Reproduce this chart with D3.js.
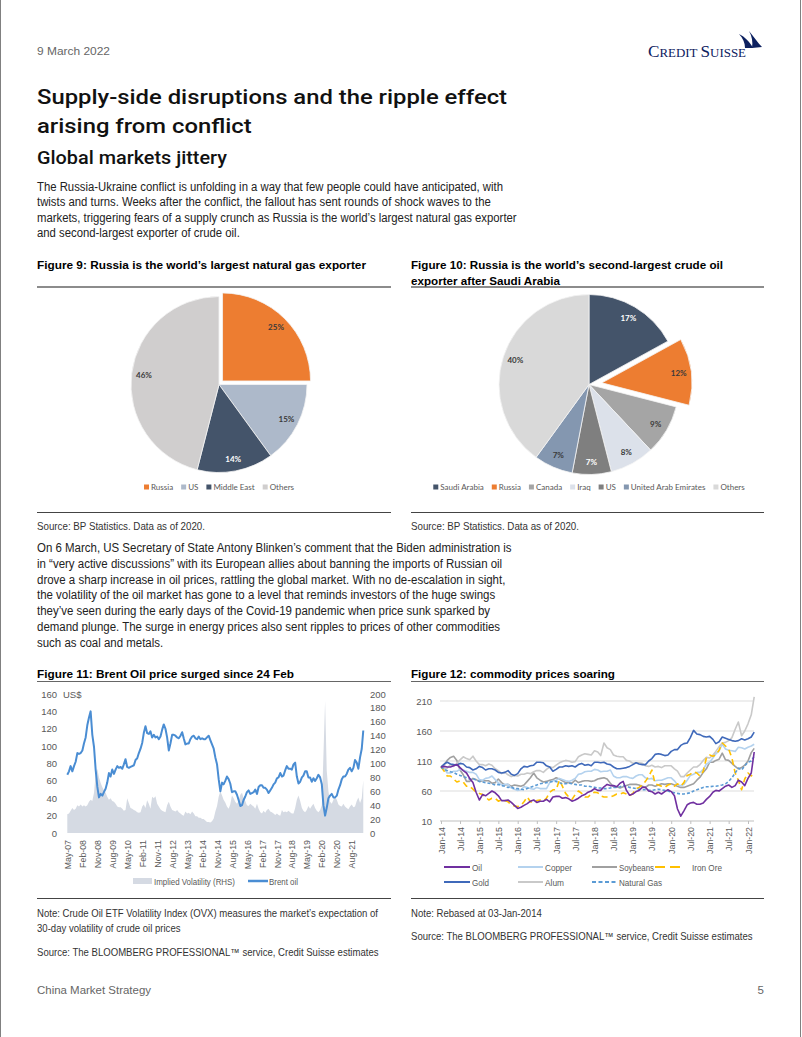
<!DOCTYPE html>
<html><head><meta charset="utf-8">
<script src="https://cdn.jsdelivr.net/npm/d3@7"></script>
<style>html,body{margin:0;padding:0;background:#fff}svg{display:block}</style>
</head><body>
<svg id="page" width="802" height="1037"></svg>
<script>
// ---------------- DATA ----------------
const gasCategories = ["Russia","US","Middle East","Others"];
const gasShares = [25,15,14,46];
const gasColors = ["#ED7D31","#ADB9CA","#44546A","#D0CECE"];
const gasLabelColors = ["#3a3a3a","#3a3a3a","#ffffff","#3a3a3a"];

const crudeCategories = ["Saudi Arabia","Russia","Canada","Iraq","US","United Arab Emirates","Others"];
const crudeShares = [17,12,9,8,7,7,40];
const crudeColors = ["#44546A","#ED7D31","#A5A5A5","#DCE1EA","#7F7F7F","#8497B0","#D9D9D9"];
const crudeLabelColors = ["#ffffff","#3a3a3a","#3a3a3a","#3a3a3a","#ffffff","#3a3a3a","#3a3a3a"];

// Figure 11: monthly from May-2007 to Mar-2022
const brentStart = [2007, 4];
const brent = [
  67,71,77,71,77,82,92,91,
  92,95,103,110,124,133,140,113,99,73,53,41,
  45,43,47,51,58,69,65,73,68,73,77,75,
  76,74,79,85,76,75,76,77,78,84,86,92,
  97,104,115,123,115,114,117,110,113,110,111,108,
  111,119,125,120,110,95,103,113,113,112,110,109,
  112,116,109,102,103,103,108,111,112,109,108,111,
  108,109,108,108,110,112,107,102,97,87,79,62,
  48,58,56,60,65,62,57,47,48,48,44,38,
  31,32,38,42,47,49,45,46,47,50,45,53,
  55,55,52,52,50,46,49,52,56,58,63,64,
  69,65,66,72,77,74,74,73,79,81,65,57,
  59,64,66,71,71,64,64,59,63,60,63,67,
  64,56,32,20,29,40,43,45,41,41,43,50,
  55,62,65,65,68,73,75,71,75,84,81,74,
  87,97,118
];
const impliedVol = [
  27,28,32,36,33,35,40,38,
  41,38,40,38,40,45,48,46,58,85,92,80,
  72,66,62,58,52,48,50,46,45,42,38,37,
  37,35,32,33,50,43,36,35,33,32,30,29,
  30,38,41,36,47,42,35,52,50,53,42,38,
  34,32,31,30,40,45,38,33,32,31,33,30,
  28,26,25,31,28,29,27,31,28,24,24,22,
  22,20,20,18,16,16,15,17,21,31,39,52,
  60,54,48,44,38,35,41,54,50,45,42,46,
  55,58,50,46,40,39,42,40,38,35,42,35,
  30,28,32,29,33,35,31,30,28,26,28,26,
  25,33,30,31,30,32,30,28,28,36,48,54,
  46,36,32,30,33,39,35,39,42,36,32,30,
  33,40,110,190,90,60,45,42,48,52,48,41,
  39,38,42,38,36,34,38,41,37,38,46,51,
  43,50,76
];
const fig11Ticks = ["May-07","Feb-08","Nov-08","Aug-09","May-10","Feb-11","Nov-11","Aug-12","May-13","Feb-14","Nov-14","Aug-15","May-16","Feb-17","Nov-17","Aug-18","May-19","Feb-20","Nov-20","Aug-21"];
const fig11LeftTicks = [0,20,40,60,80,100,120,140,160];
const fig11RightTicks = [0,20,40,60,80,100,120,140,160,180,200];

// Figure 12: monthly, rebased (Jan-2014 = 100), Jan-2014 to Mar-2022
const commodityStart = [2014, 0];
const oilIdx = [
  100,101,100,100,102,104,99,94,90,81,74,58,
  45,54,52,56,60,57,52,44,44,45,41,36,
  31,33,36,39,43,45,41,43,43,46,42,50,
  51,51,48,49,47,43,45,48,52,54,58,60,
  64,61,61,67,71,69,69,67,73,76,61,53,
  55,59,61,66,66,60,59,55,58,55,59,62,
  59,52,30,18,27,37,40,41,38,38,40,46,
  51,58,61,60,64,68,70,66,69,78,75,69,
  81,90,125
];
const copperIdx = [
  100,97,90,90,93,93,96,95,93,91,91,88,
  79,78,81,82,85,79,74,70,71,71,65,63,
  61,62,67,66,64,63,66,64,64,64,74,77,
  78,81,79,77,76,78,81,88,89,92,93,93,
  96,95,92,93,93,95,85,82,82,84,84,82,
  81,85,87,87,82,80,81,77,78,78,80,82,
  82,77,70,69,71,78,86,88,91,91,96,105,
  108,115,122,127,138,130,128,127,126,133,132,130,
  133,135,138
];
const soybeansIdx = [
  100,104,111,116,118,111,95,87,76,76,81,79,
  76,77,77,77,73,74,80,74,70,71,68,70,
  69,68,70,76,82,90,82,78,75,76,78,79,
  82,80,77,74,74,73,78,74,76,77,77,76,
  77,80,81,82,80,73,67,67,65,67,69,71,
  71,71,70,68,66,70,70,68,70,72,71,72,
  72,70,68,66,66,68,70,72,78,83,91,97,
  108,108,111,113,123,112,111,106,101,97,99,103,
  110,124,131
];
const ironOreIdx = [
  100,93,85,85,80,75,77,75,68,68,63,58,
  56,54,50,45,48,48,43,45,44,42,37,35,
  34,36,42,50,42,40,44,45,43,48,58,62,
  62,78,68,56,50,46,54,60,56,50,50,55,
  58,57,52,50,50,50,52,55,55,57,55,52,
  56,64,66,70,76,84,95,72,70,68,66,70,
  72,68,72,68,74,86,88,92,90,85,93,115,
  120,118,120,128,140,135,130,115,90,78,62,80,
  90,85,92
];
const goldIdx = [
  100,105,108,105,104,103,106,105,100,99,95,97,
  101,99,95,97,97,95,91,90,91,94,88,86,
  89,97,101,100,102,103,108,108,107,102,100,93,
  96,100,100,102,101,102,100,104,106,103,104,102,
  108,108,107,108,105,104,100,97,97,98,99,101,
  104,107,105,104,104,110,114,121,122,121,119,120,
  126,129,129,136,139,140,149,161,155,154,151,150,
  151,146,139,142,150,148,146,144,143,144,147,145,
  147,150,158
];
const alumIdx = [
  100,97,98,104,101,106,112,117,114,112,118,110,
  104,104,102,105,103,97,94,89,91,87,84,86,
  85,88,88,90,89,92,94,94,91,96,100,99,
  103,107,109,111,110,108,109,117,120,122,121,120,
  127,125,119,140,132,129,120,118,117,117,111,110,
  106,107,107,106,102,101,103,100,101,99,102,102,
  102,97,93,84,84,90,95,100,100,104,111,116,
  115,120,126,134,140,141,144,149,163,175,152,160,
  172,187,217
];
const natGasIdx = [
  100,96,94,92,91,88,86,84,82,80,81,78,
  76,75,74,73,72,70,71,69,68,66,67,64,
  64,63,62,64,66,68,70,72,73,74,75,76,
  76,74,72,72,73,72,71,70,70,68,68,67,
  66,65,65,64,64,65,66,66,67,69,68,66,
  65,64,63,62,62,61,61,62,63,62,61,60,
  58,57,56,55,55,56,57,60,62,64,66,67,
  67,68,68,69,70,72,76,82,90,98,95,102,
  108,110,118
];
const commodityNames = ["Oil","Copper","Soybeans","Iron Ore","Gold","Alum","Natural Gas"];
const commodityColors = ["#7030A0","#B4D2EE","#A0A0A0","#FFC000","#3F69BA","#C9C9C9","#5B9BD5"];
const commodityDash = [null,null,null,"6,4",null,null,"3,2"];
const commoditySeries = [oilIdx,copperIdx,soybeansIdx,ironOreIdx,goldIdx,alumIdx,natGasIdx];
const fig12Ticks = ["Jan-14","Jul-14","Jan-15","Jul-15","Jan-16","Jul-16","Jan-17","Jul-17","Jan-18","Jul-18","Jan-19","Jul-19","Jan-20","Jul-20","Jan-21","Jul-21","Jan-22"];
const fig12YTicks = [10,60,110,160,210];

// ---------------- TEXT ----------------
const para1 = [
  "The Russia-Ukraine conflict is unfolding in a way that few people could have anticipated, with",
  "twists and turns. Weeks after the conflict, the fallout has sent rounds of shock waves to the",
  "markets, triggering fears of a supply crunch as Russia is the world\u2019s largest natural gas exporter",
  "and second-largest exporter of crude oil."
];
const para2 = [
  "On 6 March, US Secretary of State Antony Blinken\u2019s comment that the Biden administration is",
  "in \u201cvery active discussions\u201d with its European allies about banning the imports of Russian oil",
  "drove a sharp increase in oil prices, rattling the global market. With no de-escalation in sight,",
  "the volatility of the oil market has gone to a level that reminds investors of the huge swings",
  "they\u2019ve seen during the early days of the Covid-19 pandemic when price sunk sparked by",
  "demand plunge. The surge in energy prices also sent ripples to prices of other commodities",
  "such as coal and metals."
];

// ---------------- DRAW ----------------
const svg = d3.select("#page");
const FONT = "'Liberation Sans', Arial, Helvetica, sans-serif";
const HEADFONT = "Roboto, 'Liberation Sans', Arial, sans-serif";
const PIEFONT = "Lato, 'Open Sans', sans-serif";

function addText(g, x, y, s, o = {}) {
  const t = g.append("text").attr("x", x).attr("y", y)
    .attr("font-family", o.family || FONT).attr("font-size", o.size || 12)
    .attr("font-weight", o.weight || "normal").attr("fill", o.fill || "#000")
    .text(s);
  if (o.anchor) t.attr("text-anchor", o.anchor);
  return t;
}
function fitWidth(t, w) { t.attr("textLength", w).attr("lengthAdjust", "spacingAndGlyphs"); return t; }
function condense(t, k) { const w = t.node().getComputedTextLength(); return fitWidth(t, w * k); }
function block(g, lines, x, y0, dy, o, target) {
  const ts = lines.map((s, i) => addText(g, x, y0 + i * dy, s, o));
  const k = target / ts[0].node().getComputedTextLength();
  ts.forEach(t => condense(t, k));
  return k;
}

// page frame
svg.append("line").attr("x1",0.5).attr("x2",0.5).attr("y1",0).attr("y2",1037).attr("stroke","#808080");
svg.append("line").attr("x1",800.5).attr("x2",800.5).attr("y1",0).attr("y2",1037).attr("stroke","#808080");

// header
fitWidth(addText(svg, 37, 55, "9 March 2022", {size: 11.5, fill: "#666"}), 73);
const logo = svg.append("text").attr("x", 648).attr("y", 57).attr("font-family", "'Liberation Serif', 'DejaVu Serif', serif").attr("fill", "#0d2160");
[["C",17],["REDIT",12.8],[" ",12.8],["S",17],["UISSE",12.8]].forEach(([s, sz]) => logo.append("tspan").attr("font-size", sz).text(s));
fitWidth(logo, 98);
svg.append("path").attr("d", "M739,34 C743,38 745,43 745,48 L753,48 C750,42 745,37 739,34 Z").attr("fill", "#0d2160");
svg.append("path").attr("d", "M749,31 C752,36 753,42 752,48 L762,47 C758,43 754,37 749,31 Z").attr("fill", "#0d2160");

// headings
block(svg, ["Supply-side disruptions and the ripple effect", "arising from conflict"], 37, 104, 29, {family: HEADFONT, size: 21, weight: 500, fill: "#111"}, 470);
fitWidth(addText(svg, 37, 164, "Global markets jittery", {family: HEADFONT, size: 17.5, weight: 500, fill: "#111"}), 190);
block(svg, para1, 37, 190.5, 15.6, {size: 12, fill: "#222"}, 466);
block(svg, para2, 37, 552, 15.8, {size: 12, fill: "#222"}, 474.5);

// footer
fitWidth(addText(svg, 37, 994, "China Market Strategy", {size: 11.5, fill: "#666"}), 114);
addText(svg, 764, 994, "5", {size: 11.5, fill: "#666", anchor: "end"});

// figure frames
function rule(x1, x2, y, w, c) { svg.append("line").attr("x1", x1).attr("x2", x2).attr("y1", y).attr("y2", y).attr("stroke", c).attr("stroke-width", w); }
fitWidth(addText(svg, 37, 269, "Figure 9:  Russia is the world\u2019s largest natural gas exporter", {size: 11.5, weight: "bold"}), 329);
block(svg, ["Figure 10: Russia is the world\u2019s second-largest crude oil", "exporter after Saudi Arabia"], 411, 269, 15.5, {size: 11.5, weight: "bold"}, 312);
rule(37, 391, 287, 1.5, "#666"); rule(411, 764, 287, 1.5, "#666");
rule(37, 391, 512.5, 1, "#444"); rule(411, 764, 512.5, 1, "#444");
const srcK = block(svg, ["Source: BP Statistics. Data as of 2020."], 37, 529.5, 0, {size: 10.5, fill: "#333"}, 168);
condense(addText(svg, 411, 529.5, "Source: BP Statistics. Data as of 2020.", {size: 10.5, fill: "#333"}), srcK);

fitWidth(addText(svg, 37, 678, "Figure 11: Brent Oil price surged since 24 Feb", {size: 11.5, weight: "bold"}), 257);
fitWidth(addText(svg, 411, 678, "Figure 12: commodity prices soaring", {size: 11.5, weight: "bold"}), 204);
rule(37, 391, 681.5, 1.2, "#666"); rule(411, 764, 681.5, 1.2, "#666");
rule(37, 391, 898.5, 1, "#444"); rule(411, 764, 898.5, 1, "#444");
const nk = block(svg, ["Note: Crude Oil ETF Volatility Index (OVX) measures the market\u2019s expectation of", "30-day volatility of crude oil prices"], 37, 917, 15, {size: 10.5, fill: "#333"}, 341);
condense(addText(svg, 37, 956, "Source: The BLOOMBERG PROFESSIONAL\u2122 service, Credit Suisse estimates", {size: 10.5, fill: "#333"}), nk);
condense(addText(svg, 411, 917, "Note: Rebased at 03-Jan-2014", {size: 10.5, fill: "#333"}), nk);
condense(addText(svg, 411, 940, "Source: The BLOOMBERG PROFESSIONAL\u2122 service, Credit Suisse estimates", {size: 10.5, fill: "#333"}), nk);

// ---------- pies ----------
function drawPie(cx, cy, r, cats, vals, colors, labelColors, explodeIdx, explodeDist, legendY) {
  const g = svg.append("g").attr("transform", `translate(${cx},${cy})`);
  const arcs = d3.pie().sort(null).value(d => d)(vals);
  const arc = d3.arc().innerRadius(0).outerRadius(r);
  const lab = d3.arc().innerRadius(r * 0.86).outerRadius(r * 0.86);
  arcs.forEach((a, i) => {
    const mid = (a.startAngle + a.endAngle) / 2;
    const off = i === explodeIdx ? explodeDist : 0;
    const sg = g.append("g").attr("transform", `translate(${Math.sin(mid) * off},${-Math.cos(mid) * off})`);
    sg.append("path").attr("d", arc(a)).attr("fill", colors[i]).attr("stroke", "#f4f4f4").attr("stroke-width", 0.8);
    const [lx, ly] = lab.centroid(a);
    sg.append("text").attr("x", lx).attr("y", ly).attr("dy", "0.35em").attr("text-anchor", "middle")
      .attr("font-family", PIEFONT).attr("font-weight", "bold").attr("font-size", 8).attr("fill", labelColors[i])
      .text(vals[i] + "%");
  });
  // legend
  const lg = svg.append("g");
  const items = cats.map((c, i) => {
    const t = addText(lg, 0, legendY + 3, c, {family: PIEFONT, size: 8, fill: "#595959"});
    return {t, w: t.node().getComputedTextLength(), i};
  });
  const total = d3.sum(items, d => d.w + 7) + 8 * (items.length - 1);
  let x = cx - total / 2;
  items.forEach(d => {
    lg.append("rect").attr("x", x).attr("y", legendY - 2.5).attr("width", 5).attr("height", 5).attr("fill", colors[d.i]);
    d.t.attr("x", x + 7);
    x += 7 + d.w + 8;
  });
}
drawPie(219, 384.5, 88, gasCategories, gasShares, gasColors, gasLabelColors, 0, 5, 487);
drawPie(589, 384.5, 90, crudeCategories, crudeShares, crudeColors, crudeLabelColors, 1, 13, 487);

// ---------- Figure 11 ----------
const parseTick = d3.timeParse("%b-%y");
const x11 = d3.scaleTime().domain([new Date(2007, 4, 1), new Date(2021, 7, 1)]).range([67.3, 351.7]);
const yL = d3.scaleLinear().domain([0, 160]).range([833, 694]);
const yR = d3.scaleLinear().domain([0, 200]).range([833, 694]);
const d11 = brent.map((v, i) => ({date: d3.timeMonth.offset(new Date(brentStart[0], brentStart[1], 1), i), brent: v, vol: impliedVol[i]}));
const g11 = svg.append("g");
g11.append("path").datum(d11).attr("fill", "#D5DAE3")
  .attr("d", d3.area().x(d => x11(d.date)).y0(yR(0)).y1(d => yR(d.vol)));
g11.append("path").datum(d11).attr("fill", "none").attr("stroke", "#4A8DD3").attr("stroke-width", 2).attr("stroke-linejoin", "round")
  .attr("d", d3.line().x(d => x11(d.date)).y(d => yL(d.brent)));
function styleAxis(a, size) {
  a.select(".domain").remove();
  a.selectAll("text").attr("font-family", FONT).attr("font-size", size).attr("fill", "#595959");
}
const ax11L = g11.append("g").attr("transform", "translate(67,0)").call(d3.axisLeft(yL).tickValues(fig11LeftTicks).tickSize(0).tickPadding(10));
styleAxis(ax11L, 9.5);
addText(g11, 63, yL(160) + 3.5, "US$", {size: 9.5, fill: "#595959"});
const ax11R = g11.append("g").attr("transform", "translate(362,0)").call(d3.axisRight(yR).tickValues(fig11RightTicks).tickSize(0).tickPadding(8));
styleAxis(ax11R, 9.5);
const ax11B = g11.append("g").attr("transform", "translate(0,833)").call(d3.axisBottom(x11).tickValues(fig11Ticks.map(parseTick)).tickFormat(d3.timeFormat("%b-%y")).tickSize(0));
styleAxis(ax11B, 8.8);
ax11B.selectAll("text").attr("transform", "rotate(-90)").attr("x", -7).attr("y", 0).attr("dy", "0.35em").attr("text-anchor", "end");
// legend 11
g11.append("rect").attr("x", 133).attr("y", 878).attr("width", 19).attr("height", 6).attr("fill", "#D5DAE3");
fitWidth(addText(g11, 154, 884.5, "Implied Volatility (RHS)", {size: 9.5, fill: "#595959"}), 81);
g11.append("line").attr("x1", 248).attr("x2", 268).attr("y1", 881).attr("y2", 881).attr("stroke", "#4A8DD3").attr("stroke-width", 2.5);
fitWidth(addText(g11, 269, 884.5, "Brent oil", {size: 9.5, fill: "#595959"}), 29);

// ---------- Figure 12 ----------
const x12 = d3.scaleTime().domain([new Date(2014, 0, 1), new Date(2022, 0, 1)]).range([441, 748]);
const y12 = d3.scaleLinear().domain([10, 210]).range([821, 701]);
const g12 = svg.append("g");
fig12YTicks.forEach(v => {
  g12.append("line").attr("x1", 440).attr("x2", 754).attr("y1", y12(v)).attr("y2", y12(v))
    .attr("stroke", v === 10 ? "#BFBFBF" : "#DDDDDD").attr("stroke-width", 1);
});
const ax12L = g12.append("g").attr("transform", "translate(440,0)").call(d3.axisLeft(y12).tickValues(fig12YTicks).tickSize(0).tickPadding(8));
styleAxis(ax12L, 9.5);
const ax12B = g12.append("g").attr("transform", "translate(0,821)").call(d3.axisBottom(x12).tickValues(fig12Ticks.map(parseTick)).tickFormat(d3.timeFormat("%b-%y")).tickSize(3));
styleAxis(ax12B, 8.8);
ax12B.selectAll("line").attr("stroke", "#BFBFBF");
ax12B.selectAll("text").attr("transform", "rotate(-90)").attr("x", -6).attr("y", 0).attr("dy", "0.35em").attr("text-anchor", "end");
const line12 = d3.line().x((d, i) => x12(d3.timeMonth.offset(new Date(commodityStart[0], commodityStart[1], 1), i))).y(d => y12(d));
const drawOrder = [2, 1, 5, 3, 6, 4, 0];
drawOrder.forEach(k => {
  const p = g12.append("path").datum(commoditySeries[k]).attr("fill", "none").attr("stroke", commodityColors[k])
    .attr("stroke-width", 1.6).attr("stroke-linejoin", "round").attr("d", line12);
  if (commodityDash[k]) p.attr("stroke-dasharray", commodityDash[k]);
});
// legend 12
const leg12 = [
  {k: 0, x1: 444, x2: 470, tx: 472, y: 867, w: 10},
  {k: 1, x1: 518, x2: 543, tx: 545, y: 867, w: 27},
  {k: 2, x1: 592, x2: 617, tx: 619, y: 867, w: 35},
  {k: 3, x1: 655, x2: 683, tx: 692, y: 867, w: 30},
  {k: 4, x1: 444, x2: 470, tx: 472, y: 882, w: 17},
  {k: 5, x1: 518, x2: 543, tx: 545, y: 882, w: 19},
  {k: 6, x1: 592, x2: 617, tx: 619, y: 882, w: 43}
];
leg12.forEach(d => {
  const l = g12.append("line").attr("x1", d.x1).attr("x2", d.x2).attr("y1", d.y).attr("y2", d.y)
    .attr("stroke", commodityColors[d.k]).attr("stroke-width", 2);
  if (d.k === 3) l.attr("stroke-dasharray", "10,5");
  if (d.k === 6) l.attr("stroke-dasharray", "4,2.5");
  fitWidth(addText(g12, d.tx, d.y + 3.5, commodityNames[d.k], {size: 9.5, fill: "#595959"}), d.w);
});
</script>
</body></html>
